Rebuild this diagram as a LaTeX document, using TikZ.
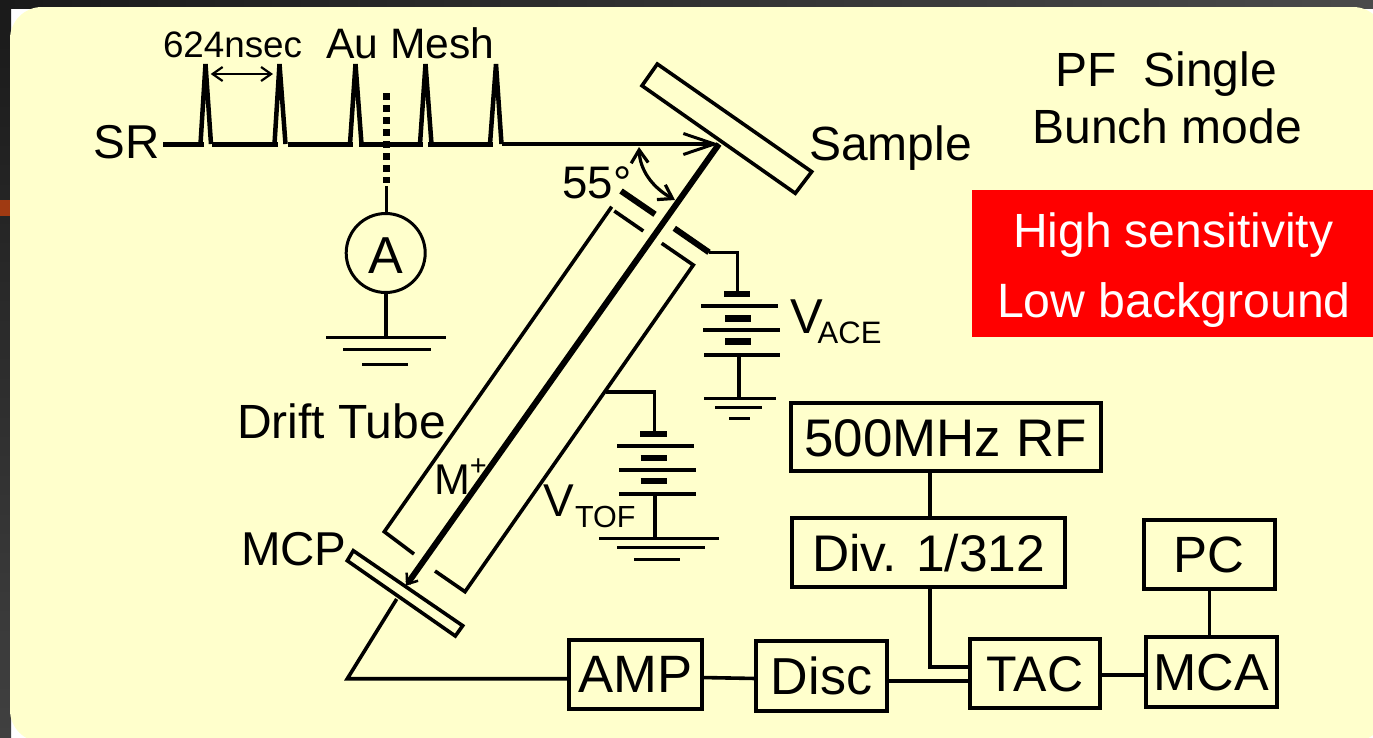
\documentclass[tikz,border=0pt]{standalone}
\usepackage{fontspec}
\setmainfont{Liberation Sans}
\usetikzlibrary{arrows.meta}
\definecolor{paper}{HTML}{FFFFCC}
\definecolor{bgtl}{HTML}{1A1A1A}
\definecolor{bgtr}{HTML}{4A4A4A}
\definecolor{bgbl}{HTML}{404040}
\definecolor{patch}{HTML}{A03A12}
\newcommand{\fs}[1]{\fontsize{#1}{#1}\selectfont}
\tikzset{
  lbl/.style={inner sep=0pt,outer sep=0pt,anchor=base west,text=black},
  boxn/.style={draw=black,line width=4pt,inner sep=0pt,outer sep=0pt,text depth=0pt,text height=#1*0.72pt,font=\fs{#1},anchor=center},
  wire/.style={line width=3.6pt,black},
  heavy/.style={line width=6pt,black},
  plate/.style={line width=6.7pt,black},
  bar/.style={line width=4.2pt,black},
  gnd/.style={line width=3.5pt,black},
}
\begin{document}
\begin{tikzpicture}[x=1pt,y=-1pt]
\useasboundingbox (0,0) rectangle (1373,737);
% slide background
\shade[left color=bgtl,right color=bgtr] (0,0) rectangle (1373,8);
\shade[top color=bgtl,bottom color=bgbl] (0,0) rectangle (11,737);
\fill[patch] (0,200) rectangle (11,215.5);
\fill[paper,rounded corners=32pt] (10,7) rectangle (1385,742);
% red panel
\fill[red] (972,190) rectangle (1373,337);
\node[lbl,text=white,font=\fs{48}] (hs) at (1013,247) {High sensitivity};
\node[lbl,text=white,font=\fs{48.2}] (lb) at (997,317) {Low background};
% labels
\node[lbl,font=\fs{36.8}] (t624) at (163,57) {624nsec};
\node[lbl,font=\fs{42.6}] (au) at (326.5,58) {Au Mesh};
\node[lbl,font=\fs{47.5}] (sr) at (93.5,158) {SR};
\node[lbl,font=\fs{45.6}] (a55) at (562.5,198) {55°};
\node[lbl,font=\fs{48}] (smp) at (809,160) {Sample};
\node[lbl,font=\fs{48}] (pf) at (1055.5,86) {PF\ \ Single};
\node[lbl,font=\fs{48}] (bm) at (1032.5,143) {Bunch mode};
\node[lbl,font=\fs{49}] (vace) at (790,333) {V};
\node[lbl,font=\fs{31}] (ace) at (817.7,343.3) {ACE};
\node[lbl,font=\fs{48}] (dt) at (237,438) {Drift Tube};
\node[lbl,font=\fs{46}] (vt) at (543,516) {V};
\node[lbl,font=\fs{30.5}] (tof) at (575,527.3) {TOF};
\node[lbl,font=\fs{47.5}] (mcp) at (241,565) {MCP};
% pulse train
\coordinate (arrtip) at (719,144);
\draw[line width=5pt] (163,144) -- (204,144) (212,144) -- (278,144) (288,144) -- (353,144)
  (359,144) -- (423,144) (428,144) -- (493,144);
\draw[line width=4.5pt,line join=bevel]
  (200.5,144) -- (205.5,64) -- (211,144)
  (274.5,144) -- (279.5,64) -- (285.5,144)
  (350,144) -- (355.5,64) -- (361.5,144)
  (420,144) -- (425.5,64) -- (431.5,144)
  (490,144) -- (496,64) -- (501.5,144);
\draw[line width=4pt,-{Straight Barb[length=31pt,width=21pt,line width=3pt]}] (501.5,144) -- (arrtip);
\draw[line width=2.2pt,{Straight Barb[length=10pt,width=14pt]}-{Straight Barb[length=10pt,width=14pt]}] (210.7,74) -- (273,74);
% mesh + ammeter
\draw[line width=6.7pt,dash pattern=on 6.7pt off 5.3pt] (386.7,93) -- (386.7,183);
\node[circle,draw=black,line width=3pt,minimum size=79pt,inner sep=0pt,outer sep=0pt] (am) at (385.7,253) {};
\node[inner sep=0pt,anchor=base,font=\fs{52}] (alab) at (385.7,273) {A};
\draw[line width=3pt] (386.7,186) -- (386.7,213);
\coordinate (g1) at (385.7,337.3);
\draw[line width=3.8pt] (am.south) -- (g1);
\draw[gnd] (326,337.3) -- (446,337.3) (343,349.3) -- (431,349.3);
\draw[line width=2.5pt] (362,364.7) -- (408,364.7);
% sample
\draw[wire,line join=miter] (657.3,64) -- (811.7,171.7) -- (795.3,193.3) -- (642,85.7) -- cycle;
% beam
\coordinate (mcptip) at (406,585.7);
\draw[heavy,-{Straight Barb[length=9pt,width=14pt,line width=2.5pt]}] (arrtip) -- (mcptip);
\node[lbl,font=\fs{43}] (mp) at (434,494) {M\raisebox{19pt}{\fs{29}+}};
% angle
\draw[line width=3.2pt,{Straight Barb[length=13pt,width=17pt]}-{Straight Barb[length=13pt,width=17pt]}]
  (639,147) .. controls (640,170) and (652,187) .. (675,200);
% tube
\draw[wire] (611.7,206.7) -- (384.3,531.7) -- (414,554);
\draw[wire] (614.3,211) -- (643.3,231);
\draw[wire] (661.7,243.3) -- (693.3,265) -- (465,591.7) -- (435,571);
% electrodes
\draw[heavy] (621,191) -- (655,214.3);
\draw[heavy] (674.3,228.3) -- (709,252.3);
\draw[wire] (709,252.3) -- (737.3,252.3) -- (737.3,293);
% battery ACE
\draw[plate] (724,294) -- (750,294) (725,318.3) -- (750.7,318.3) (725,341.7) -- (750.7,341.7);
\draw[bar] (701,306) -- (777.7,306) (703,330) -- (780,330) (704,355) -- (780,355);
\draw[line width=4pt] (738.7,355) -- (738.7,398);
\draw[gnd] (704,398.3) -- (776,398.3) (715,407.7) -- (761.7,407.7);
\draw[line width=3pt] (729,418) -- (750,418);
% battery TOF
\draw[wire] (606,391.7) -- (654.3,391.7) -- (654.3,433);
\draw[plate] (640,434) -- (666.7,434) (640.7,458) -- (667,458) (640.7,481) -- (667,481);
\draw[bar] (617,445.7) -- (694,445.7) (619,470) -- (696,470) (619,494) -- (696,494);
\draw[line width=4pt] (655,494) -- (655,538.3);
\draw[gnd] (599,538.3) -- (719,538.3) (617,547.3) -- (705,547.3);
\draw[line width=3pt] (634,559.3) -- (680,559.3);
% MCP
\draw[wire,line join=miter] (353.3,550.7) -- (462.7,625.7) -- (455.3,636) -- (347.3,560.7) -- cycle;
% boxes
\node[boxn=52.9,minimum width=310pt,minimum height=68pt] (rf) at (945.5,437) {500MHz RF};
\node[boxn=51.5,minimum width=273pt,minimum height=69pt] (dv) at (928.7,552.5) {Div. 1/312};
\node[boxn=51,minimum width=131pt,minimum height=69pt] (pc) at (1209.3,554) {PC};
\node[boxn=52,minimum width=131pt,minimum height=70pt] (mca) at (1211.3,671.5) {MCA};
\node[boxn=50,minimum width=130pt,minimum height=69pt] (tac) at (1035,673) {TAC};
\node[boxn=52,minimum width=131pt,minimum height=70pt] (disc) at (821.5,675.5) {Disc};
\node[boxn=52.6,minimum width=133pt,minimum height=69pt] (amp) at (635.2,674) {AMP};
% connectors
\coordinate (det) at (347.3,678.7);
\draw[wire,line join=miter] (396.7,599) -- (det) -- (amp.west |- det);
\draw[wire] ([yshift=-3.5pt]amp.east) -- ([yshift=-3pt]disc.west);
\draw[wire] ([yshift=-5.2pt]disc.east) -- ([yshift=-7.7pt]tac.west);
\draw[wire] ([yshift=-2pt]tac.east) -- ([yshift=-3.5pt]mca.west);
\draw[wire] (rf.south -| dv.north) ++(1,0) -- ([xshift=1pt]dv.north);
\draw[wire] ([xshift=1pt]dv.south) |- ([yshift=6.3pt]tac.west);
\draw[wire] (pc.south) -- (mca.north -| pc.south);
\end{tikzpicture}
\end{document}
